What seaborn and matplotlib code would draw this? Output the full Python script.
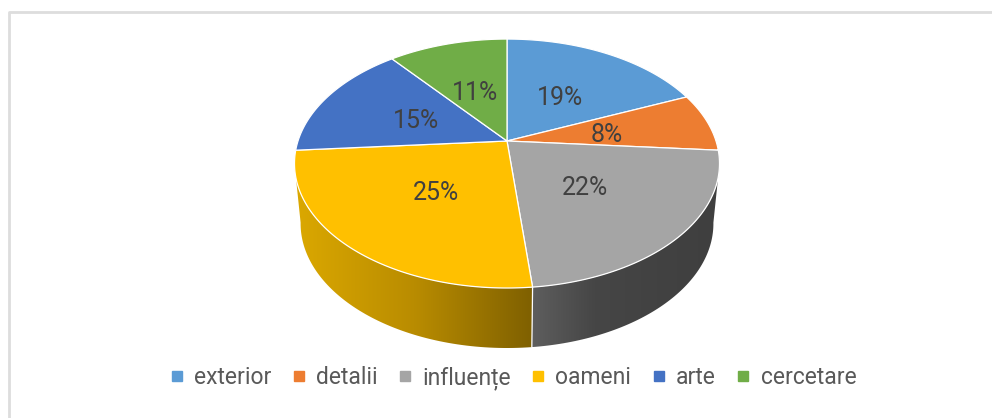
"""3D style pie chart with a legend below."""

import matplotlib
matplotlib.use("Agg")
import matplotlib.pyplot as plt
import numpy as np
import seaborn as sns
from matplotlib.lines import Line2D
from matplotlib.patches import Polygon

categories = ["exterior", "detalii", "influențe", "oameni", "arte", "cercetare"]
shares = [18.6, 7.6, 22.2, 25.4, 15.4, 10.8]
colors = ["#5B9BD5", "#ED7D31", "#A5A5A5", "#FFC000", "#4472C4", "#70AD47"]
text_color = "#404040"

# perspective of the pie, in pixels
CX, CY = 507, 141
TILT = 0.181
TOP_A, BOTTOM_A = 209, 203
B = 120.4
DEPTH = 60

sns.set_theme(style="white")
plt.rcParams["font.family"] = ["Roboto", "DejaVu Sans"]


def project(theta, radius=1.0, a=TOP_A, dy=0):
    """Map pie angles (degrees) on to the tilted disc."""
    u = radius * np.cos(np.radians(theta))
    v = radius * np.sin(np.radians(theta))
    w = 1 + TILT * v
    return CX + a * u / w, CY + dy - B * v / w


def wall(ax, t_from, t_to, t_bottom, palette):
    """Side wall between two angles, filled with a horizontal gradient."""
    tx, ty = project(np.linspace(t_from, t_to, 80))
    bx, by = project(np.linspace(t_bottom, t_from, 80), a=BOTTOM_A, dy=DEPTH)
    pts = np.column_stack([np.r_[tx, bx], np.r_[ty, by]])
    cmap = sns.blend_palette(palette, as_cmap=True)
    img = ax.imshow(
        np.linspace(0, 1, 256)[None, :],
        extent=(pts[:, 0].min(), pts[:, 0].max(), pts[:, 1].max(), pts[:, 1].min()),
        cmap=cmap,
        aspect="auto",
        zorder=1,
    )
    img.set_clip_path(Polygon(pts, closed=True, transform=ax.transData))


fig = plt.figure(figsize=(9.92, 4.18), dpi=100)
ax = fig.add_axes([0, 0, 1, 1])

wedges, _, autotexts = ax.pie(
    shares,
    colors=colors,
    startangle=90,
    counterclock=False,
    autopct="%.0f%%",
    pctdistance=0.49,
    radius=1,
)

ax.set_aspect("auto")
ax.set_xlim(0, 992)
ax.set_ylim(418, 0)
ax.set_autoscale_on(False)
ax.axis("off")

for wedge, color, label in zip(wedges, colors, autotexts):
    wedge.set_visible(False)
    px, py = project(np.linspace(wedge.theta1, wedge.theta2, 120))
    ax.fill(np.r_[CX, px], np.r_[CY, py], facecolor=color, edgecolor="white", linewidth=0.9, zorder=3)
    lx, ly = label.get_position()
    theta = np.degrees(np.arctan2(ly, lx))
    sx, sy = project(theta, radius=np.hypot(lx, ly))
    label.set_position((sx, sy + 3))
    label.set_color(text_color)
    label.set_fontsize(18)
    label.set_zorder(5)

# only the front of the pie shows a wall
split = wedges[2].theta1
wall(ax, split, -163, -170, ["#DBA800", "#B98C00", "#7F6000"])
wall(ax, split, -17, -10, ["#5E5E5E", "#464646", "#424242", "#3F3F3F"])
sx, sy = project(split)
bx, by = project(split, a=BOTTOM_A, dy=DEPTH)
ax.plot([sx, bx], [sy, by], color="white", linewidth=0.9, zorder=2)

# frame of the picture, open on the right
ax.plot([8.5, 8.5, 992], [418, 11.5, 11.5], color="#DDDDDD", linewidth=2, zorder=0)

handles = [
    Line2D([], [], linestyle="none", marker="s", markersize=6.5, markerfacecolor=c, markeredgecolor=c)
    for c in colors
]
ax.legend(
    handles,
    categories,
    loc="center",
    bbox_to_anchor=(513 / 992, 1 - 378 / 418),
    ncol=6,
    frameon=False,
    fontsize=16.5,
    labelcolor="#595959",
    handlelength=0.6,
    handletextpad=0.45,
    columnspacing=0.9,
)

fig.savefig("out.png", dpi=100)
